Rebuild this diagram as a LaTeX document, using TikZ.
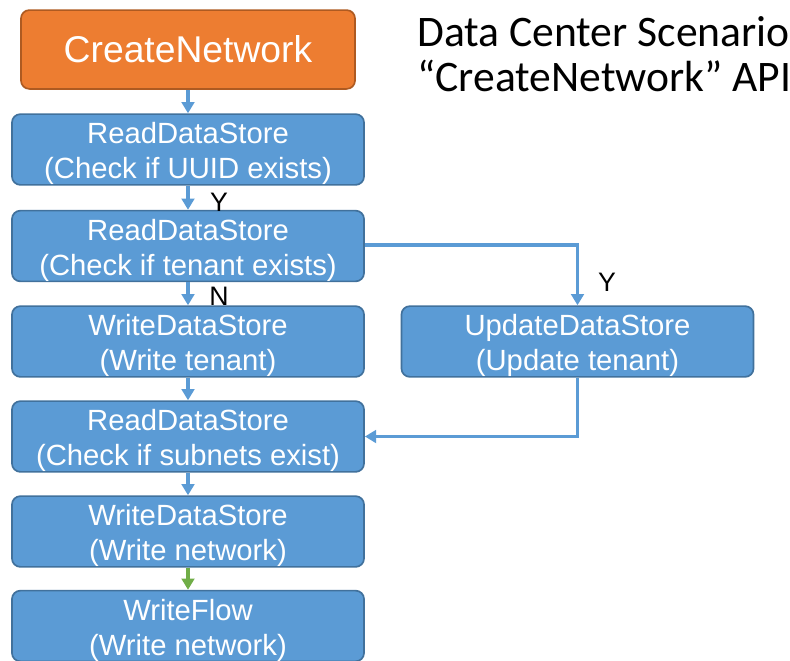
\documentclass[tikz,border=0pt]{standalone}
\usepackage{fontspec}
\setmainfont{Liberation Sans}
\newfontfamily\titlefont{Carlito}
\usetikzlibrary{arrows.meta, positioning, calc}
\definecolor{BoxFill}{HTML}{5B9BD5}
\definecolor{BoxLine}{HTML}{41719C}
\definecolor{ApiFill}{HTML}{ED7D31}
\definecolor{ApiLine}{HTML}{AE5A21}
\definecolor{FlowGreen}{HTML}{70AD47}
% two-line box text, pushed slightly down
\newcommand{\calltext}[2]{\rule{0pt}{21pt}#1\\#2}

\begin{document}
\begin{tikzpicture}[
    x=0.025cm, y=-0.025cm,
    call/.style={
        rectangle, rounded corners=6pt, minimum width=8.8cm,
        minimum height=1.72cm, draw=BoxLine, line width=1.2pt,
        fill=BoxFill, text=white, align=center, inner sep=0pt,
        font=\fontsize{20.8}{25}\selectfont
    },
    api/.style={call, draw=ApiLine, fill=ApiFill, minimum width=8.35cm,
                minimum height=1.97cm, font=\fontsize{26.5}{30}\selectfont},
    arr/.style={-{Triangle[length=8pt, width=9pt]}, line width=2.2pt, BoxFill},
    lbl/.style={font=\fontsize{19}{22}\selectfont, inner sep=0pt}
]
\useasboundingbox (0,0) rectangle (790,660);

% ===================================================================
% CALL CHAIN
% ===================================================================
\node[api]  (create)  at (188,49.5) {CreateNetwork};
\node[call] (uuid)    at (188,149.5)
    {\calltext{ReadDataStore}{(Check if UUID exists)}};
\node[call] (tenant)  at (188,246)
    {\calltext{ReadDataStore}{(Check if tenant exists)}};
\node[call] (wtenant) at (188,341.5)
    {\calltext{WriteDataStore}{(Write tenant)}};
\node[call] (utenant) at (577.5,341.5)
    {\calltext{UpdateDataStore}{(Update tenant)}};
\node[call] (subnets) at (188,436.5)
    {\calltext{ReadDataStore}{(Check if subnets exist)}};
\node[call] (wnet)    at (188,531.5)
    {\calltext{WriteDataStore}{(Write network)}};
\node[call] (wflow)   at (188,626)
    {\calltext{WriteFlow}{(Write network)}};

% ===================================================================
% ARROWS
% ===================================================================
\foreach \a/\b in {create/uuid, uuid/tenant, tenant/wtenant,
                   wtenant/subnets, subnets/wnet} {
    \draw[arr] (\a) -- (\b);
}
\draw[arr, FlowGreen] (wnet) -- (wflow);
\draw[arr] (tenant.east |- 0,245) -| (utenant.north);
\draw[arr] (utenant.south) |- (subnets.east);

% branch labels
\node[lbl] (yes1) at (219,202) {Y};
\node[lbl] (no1)  at (219,296) {N};
\node[lbl] (yes2) at (607,282) {Y};

% ===================================================================
% TITLE
% ===================================================================
\node[anchor=north west, align=left, inner sep=0pt,
      font=\titlefont\fontsize{31}{32}\selectfont] (title) at (417,16)
    {Data Center Scenario\\“CreateNetwork” API};

\end{tikzpicture}
\end{document}
